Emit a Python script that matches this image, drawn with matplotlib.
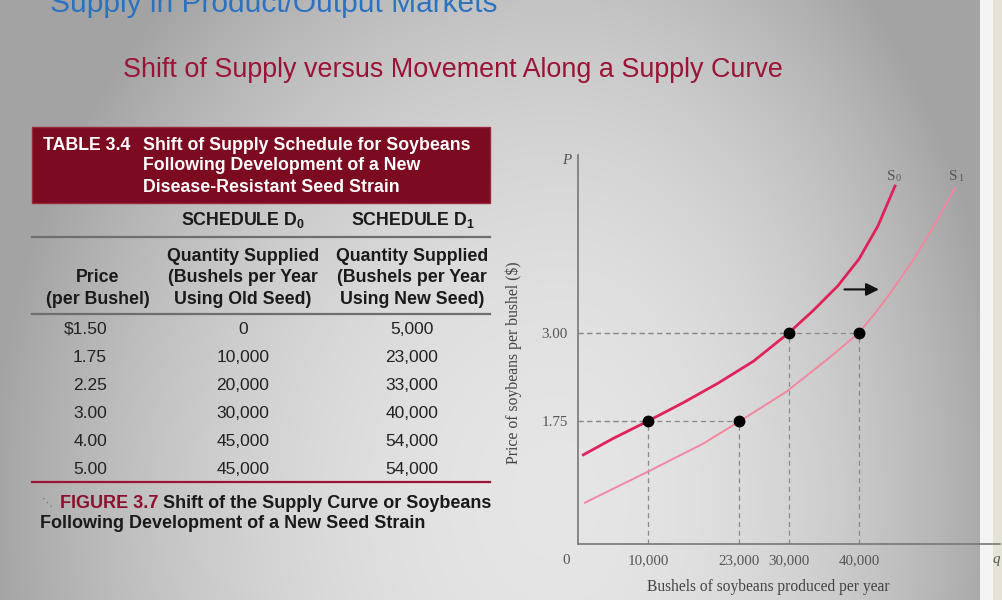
import matplotlib
matplotlib.use("Agg")
import matplotlib.pyplot as plt
import numpy as np
from matplotlib.lines import Line2D
from matplotlib.patches import Rectangle

# Table 3.4 - supply schedules
prices = ["$1.50", "1.75", "2.25", "3.00", "4.00", "5.00"]
old_seed = [0, 10000, 20000, 30000, 45000, 45000]
new_seed = [5000, 23000, 33000, 40000, 54000, 54000]

# Figure 3.7 - supply curves (quantity, price)
s0_q = [800, 5000, 10000, 15000, 20000, 25000, 30000, 33500, 37000, 40000, 42700, 45140]
s0_p = [1.27, 1.50, 1.75, 2.01, 2.29, 2.60, 3.00, 3.32, 3.67, 4.05, 4.52, 5.09]
s1_q = [1040, 9960, 17870, 23090, 29730, 35420, 39970, 42200, 44420, 47740, 50580, 53670]
s1_p = [0.59, 1.03, 1.43, 1.75, 2.17, 2.62, 3.00, 3.27, 3.56, 4.04, 4.51, 5.06]

# highlighted points
pts_q = [10000, 30000, 23000, 40000]
pts_p = [1.75, 3.00, 1.75, 3.00]

xtick_vals = [10000, 23000, 30000, 40000]
ytick_vals = [1.75, 3.00]

W, H = 1003, 600
fig = plt.figure(figsize=(10.03, 6), dpi=100)


def fx(x):
    return x / W


def fy(y):
    return 1 - y / H


# slide background (radial grey gradient + right edge strips)
bg = fig.add_axes([0, 0, 1, 1], zorder=-10)
yy, xx = np.mgrid[0:H, 0:W]
sx = np.where(xx > 560, 440.0, 560.0)
d2 = ((xx - 560) / sx) ** 2 + ((yy - 500) / 680.0) ** 2
val = np.clip(0.90 - 0.25 * d2, 0.64, 1)
img = np.dstack([val, val, val])
img[:, 980:993] = [0.96, 0.96, 0.96]
img[:, 993:] = [0.90, 0.89, 0.84]
bg.imshow(img, extent=[0, W, H, 0], aspect="auto")
bg.axis("off")

sans = "Liberation Sans"
serif = "Liberation Serif"
plt.rcParams["mathtext.fontset"] = "custom"
plt.rcParams["mathtext.rm"] = sans
plt.rcParams["mathtext.bf"] = sans + ":bold"

# slide titles (the top one is cut by the slide edge, as in the original)
fig.text(fx(50), fy(12), "Supply in Product/Output Markets", family=sans,
         fontsize=21.5, color="#2a72c2", va="baseline")
fig.text(fx(123), fy(70), "Shift of Supply versus Movement Along a Supply Curve",
         family=sans, fontsize=19.4, color="#9b1436", va="center")

# table header box
fig.patches.append(Rectangle((fx(32), fy(203)), fx(490) - fx(32), fy(127) - fy(203),
                             transform=fig.transFigure, facecolor="#7c0a20",
                             edgecolor="#9a2a3a", lw=1))
hdr = dict(family=sans, fontsize=12.8, weight="bold", color="white", va="center")
fig.text(fx(43), fy(145), "TABLE 3.4", **hdr)
fig.text(fx(143), fy(145), "Shift of Supply Schedule for Soybeans", **hdr)
fig.text(fx(143), fy(166), "Following Development of a New", **hdr)
fig.text(fx(143), fy(188), "Disease-Resistant Seed Strain", **hdr)

colh = dict(family=sans, fontsize=12.8, weight="bold", color="#1a1a1a", va="center", ha="center")
fig.text(fx(243), fy(220), r"SCHEDULE D$_{\mathbf{0}}$", **colh)
fig.text(fx(413), fy(220), r"SCHEDULE D$_{\mathbf{1}}$", **colh)
fig.text(fx(243), fy(256), "Quantity Supplied", **colh)
fig.text(fx(243), fy(277), "(Bushels per Year", **colh)
fig.text(fx(243), fy(299), "Using Old Seed)", **colh)
fig.text(fx(412), fy(256), "Quantity Supplied", **colh)
fig.text(fx(412), fy(277), "(Bushels per Year", **colh)
fig.text(fx(412), fy(299), "Using New Seed)", **colh)
fig.text(fx(98), fy(277), "Price", **colh)
fig.text(fx(98), fy(299), "(per Bushel)", **colh)

for yl, c in [(237, "#6e6e6e"), (314, "#6e6e6e"), (482, "#9b1436")]:
    fig.add_artist(Line2D([fx(32), fx(490)], [fy(yl), fy(yl)], color=c, lw=1.6))

body = dict(family=sans, fontsize=12.5, color="#222222", va="center")
for i, (p, a, b) in enumerate(zip(prices, old_seed, new_seed)):
    y = 329 + 28 * i
    fig.text(fx(107), fy(y), p, ha="right", **body)
    fig.text(fx(243), fy(y), f"{a:,}", ha="center", **body)
    fig.text(fx(412), fy(y), f"{b:,}", ha="center", **body)

# figure caption
fig.text(fx(42), fy(503), "⋱", family="DejaVu Sans", fontsize=8, color="#777777", va="center")
cap = dict(family=sans, fontsize=13, weight="bold", va="center")
fig.text(fx(60), fy(503), "FIGURE 3.7", color="#8e0e2c", **cap)
fig.text(fx(163), fy(503), "Shift of the Supply Curve or Soybeans", color="#1a1a1a", **cap)
fig.text(fx(40), fy(524), "Following Development of a New Seed Strain", color="#1a1a1a", **cap)

# supply curve chart
ax = fig.add_axes([fx(577.7), fy(544.2), (999.5 - 577.7) / W, (544.2 - 155) / H])
ax.patch.set_visible(False)
ax.set_xlim(0, 60000)
ax.set_ylim(0, 5.53)
for s in ["top", "right"]:
    ax.spines[s].set_visible(False)
for s in ["left", "bottom"]:
    ax.spines[s].set_color("#777777")
    ax.spines[s].set_linewidth(1.2)

dash = dict(color="#8a8a8a", lw=0.9, ls=(0, (4, 3)), zorder=1)
for q, p in zip(pts_q, pts_p):
    ax.plot([0, q], [p, p], **dash)
    ax.plot([q, q], [0, p], **dash)

ax.plot(s1_q, s1_p, color="#f2879f", lw=1.4, zorder=2, solid_joinstyle="round")
ax.plot(s0_q, s0_p, color="#e0225a", lw=2.0, zorder=3, solid_joinstyle="round")
ax.plot(pts_q, pts_p, "o", color="black", ms=7.5, zorder=4)

ax.annotate("", xy=(43240, 3.62), xytext=(37550, 3.62),
            arrowprops=dict(arrowstyle="-|>", color="#111111", lw=1.5, mutation_scale=19))
lab = dict(family=serif, fontsize=11, color="#555555", va="center")
sub = dict(family=serif, fontsize=7.5, color="#555555", va="center")
ax.text(45240, 5.22, "S", ha="right", **lab)
ax.text(45240, 5.19, "0", ha="left", **sub)
ax.text(54050, 5.22, "S", ha="right", **lab)
ax.text(54050, 5.19, "1", ha="left", **sub)

ax.set_xticks(xtick_vals)
ax.set_xticklabels([f"{v:,}" for v in xtick_vals])
ax.set_yticks(ytick_vals)
ax.set_yticklabels([f"{v:.2f}" for v in ytick_vals])
ax.tick_params(length=0, labelsize=10.8, labelcolor="#555555", pad=7)
for t in ax.get_xticklabels() + ax.get_yticklabels():
    t.set_family(serif)

ax.annotate("0", xy=(0, 0), xytext=(-8, -12), textcoords="offset points",
            family=serif, fontsize=10.8, color="#555555", ha="center", va="center")
ax.annotate("P", xy=(0, 5.53), xytext=(-8, -4), textcoords="offset points",
            family=serif, style="italic", fontsize=10.8, color="#555555", ha="center", va="center")
ax.annotate("q", xy=(60000, 0), xytext=(-2, -11), textcoords="offset points",
            family=serif, style="italic", fontsize=10.8, color="#555555", ha="center", va="center")

ax.set_xlabel("Bushels of soybeans produced per year", family=serif, fontsize=11.2,
              color="#444444")
ax.xaxis.set_label_coords(0.451, -0.09)
ax.set_ylabel("Price of soybeans per bushel ($)", family=serif, fontsize=11.3,
              color="#444444")
ax.yaxis.set_label_coords(-0.131, 0.466)

fig.savefig("out.png", dpi=100)
